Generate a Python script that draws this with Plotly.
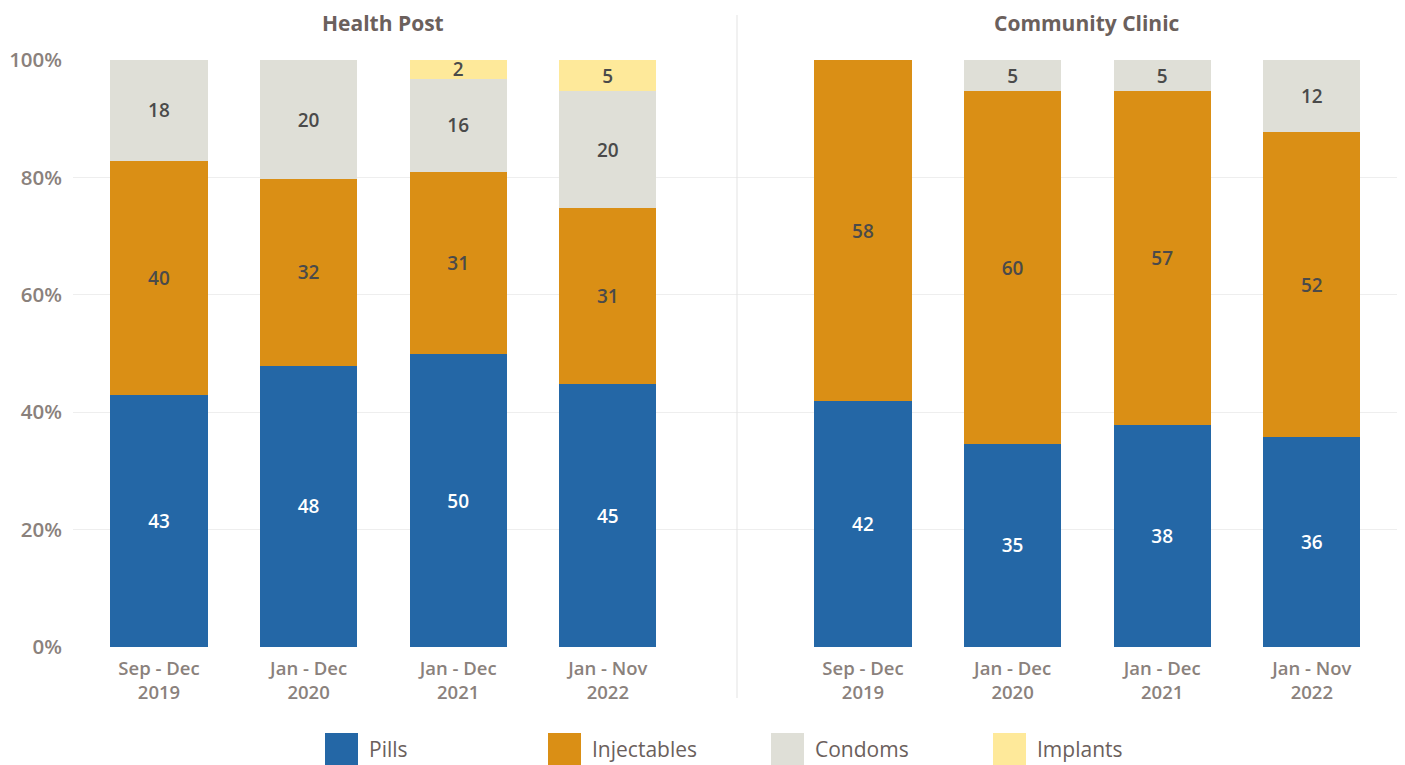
import plotly.graph_objects as go

categories = ["Sep - Dec<br>2019", "Jan - Dec<br>2020", "Jan - Dec<br>2021", "Jan - Nov<br>2022"]
panels = ["Health Post", "Community Clinic"]
series = ["Pills", "Injectables", "Condoms", "Implants"]
colors = ["#2467a6", "#da8f15", "#dfdfd7", "#fee99a"]
text_colors = ["#ffffff", "#4a4a4a", "#4a4a4a", "#4a4a4a"]

# Bar heights (share, %)
hp_pills = [42.9, 47.9, 49.9, 44.8]
hp_injectables = [39.9, 31.8, 31.0, 30.0]
hp_condoms = [17.2, 20.3, 15.9, 19.9]
hp_implants = [0, 0, 3.2, 5.3]

cc_pills = [41.9, 34.6, 37.8, 35.8]
cc_injectables = [58.1, 60.1, 56.9, 51.9]
cc_condoms = [0, 5.3, 5.3, 12.3]
cc_implants = [0, 0, 0, 0]

# Labels printed in the bars
hp_pills_lbl = [43, 48, 50, 45]
hp_injectables_lbl = [40, 32, 31, 31]
hp_condoms_lbl = [18, 20, 16, 20]
hp_implants_lbl = [None, None, 2, 5]

cc_pills_lbl = [42, 35, 38, 36]
cc_injectables_lbl = [58, 60, 57, 52]
cc_condoms_lbl = [None, 5, 5, 12]
cc_implants_lbl = [None, None, None, None]

y_ticks = [0, 20, 40, 60, 80, 100]
y_tick_text = ["0%", "20%", "40%", "60%", "80%", "100%"]

FONT = "Open Sans"
W, H = 1405, 765
L, R, T, B = 73, 1397, 60, 647
DIV = 737

def px_x(p):
    return (p - L) / (R - L)

def px_y(p):
    return (B - p) / (B - T)

fig = go.Figure()

data = {
    "x": [hp_pills, hp_injectables, hp_condoms, hp_implants],
    "x2": [cc_pills, cc_injectables, cc_condoms, cc_implants],
}
labels = {
    "x": [hp_pills_lbl, hp_injectables_lbl, hp_condoms_lbl, hp_implants_lbl],
    "x2": [cc_pills_lbl, cc_injectables_lbl, cc_condoms_lbl, cc_implants_lbl],
}
for ax, ya in (("x", "y"), ("x2", "y2")):
    for i, name in enumerate(series):
        vals = data[ax][i]
        txt = ["" if v is None else str(v) for v in labels[ax][i]]
        fig.add_trace(go.Bar(
            x=categories, y=vals, name=name, xaxis=ax, yaxis=ya,
            marker=dict(color=colors[i], line=dict(width=0)),
            text=txt, textposition="inside", insidetextanchor="middle",
            textangle=0, constraintext="none",
            textfont=dict(family=FONT, size=19, color=text_colors[i], weight=600),
            width=0.65, showlegend=False, hoverinfo="skip",
        ))

dom_split = px_x(DIV)
spacing = 149.6
left_c0 = 159
right_c0 = 863
xr_left = [(L - left_c0) / spacing, (DIV - left_c0) / spacing]
xr_right = [(DIV - right_c0) / spacing, (R - right_c0) / spacing]

tickfont = dict(family=FONT, size=18.5, color="#8a817c", weight=600)
common_x = dict(type="category", showgrid=False, zeroline=False, showline=False,
                ticks="", tickfont=tickfont, fixedrange=True, ticklabelstandoff=8)
fig.update_layout(
    barmode="stack",
    width=W, height=H,
    margin=dict(l=L, r=W - R, t=T, b=H - B, pad=0),
    paper_bgcolor="white", plot_bgcolor="white",
    showlegend=False,
    font=dict(family=FONT),
    xaxis=dict(domain=[0, dom_split], range=xr_left, **common_x),
    xaxis2=dict(domain=[dom_split, 1], range=xr_right, **common_x),
    yaxis=dict(range=[0, 100], tickmode="array", tickvals=y_ticks, ticktext=y_tick_text,
               showgrid=True, gridcolor="#eeeeee", gridwidth=1, zeroline=False,
               showline=False, ticks="",
               tickfont=dict(family=FONT, size=20.5, color="#8a817c", weight=600),
               ticklabelstandoff=10),
    yaxis2=dict(range=[0, 100], tickvals=y_ticks, showticklabels=False, showgrid=True,
                gridcolor="#eeeeee", gridwidth=1, zeroline=False, showline=False,
                anchor="x2"),
)

# divider between the panels
fig.add_shape(type="line", xref="paper", yref="paper",
              x0=dom_split, x1=dom_split, y0=px_y(698), y1=px_y(15),
              line=dict(color="#e3e3e3", width=1))

# panel titles
for name, cx in zip(panels, [383, 1087]):
    fig.add_annotation(text="<b>%s</b>" % name, xref="paper", yref="paper",
                       x=px_x(cx), y=px_y(23), showarrow=False,
                       xanchor="center", yanchor="middle",
                       font=dict(family=FONT, size=21, color="#6b605c"))

# custom legend with large squares
leg_x = [325, 548, 771, 993]
for name, col, lx in zip(series, colors, leg_x):
    fig.add_shape(type="rect", xref="paper", yref="paper",
                  x0=px_x(lx), x1=px_x(lx + 33), y0=px_y(765), y1=px_y(733),
                  fillcolor=col, line=dict(width=0))
    fig.add_annotation(text=name, xref="paper", yref="paper",
                       x=px_x(lx + 42), y=px_y(749), showarrow=False,
                       xanchor="left", yanchor="middle",
                       font=dict(family=FONT, size=21, color="#6b605c"))

fig.write_html("out.html", config={"displayModeBar": False})
